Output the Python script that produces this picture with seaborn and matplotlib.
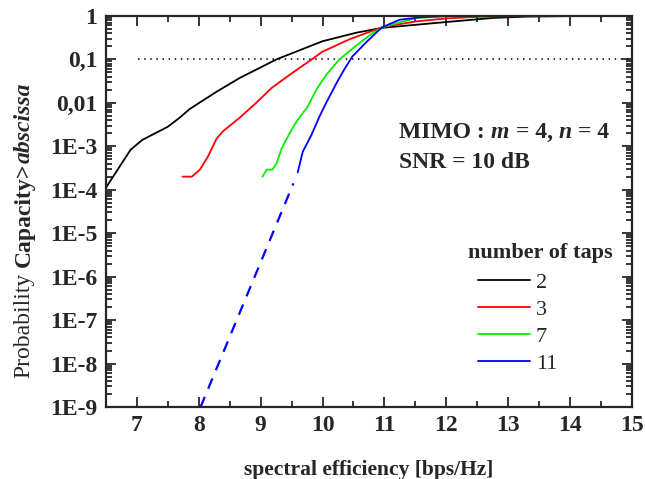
import numpy as np
import pandas as pd
import matplotlib
matplotlib.use("Agg")
from matplotlib import pyplot as plt
from matplotlib.ticker import FixedLocator, LogLocator, NullFormatter, MultipleLocator
import seaborn as sns

# values (x: spectral efficiency, y: P(C > x))
x_2 = [6.5, 6.9, 7.09, 7.5, 7.69, 7.85, 8.29, 8.66, 9.26, 10.0, 10.55, 10.97, 12.0, 12.74, 13.3, 14.0]
y_2 = [1.1e-4, 8.3e-4, 1.4e-3, 2.8e-3, 4.5e-3, 7.1e-3, 1.8e-2, 3.7e-2, 0.1, 0.26, 0.41, 0.53, 0.72, 0.89, 0.96, 0.985]

x_3 = [7.74, 7.89, 8.02, 8.15, 8.29, 8.39, 8.66, 8.93, 9.18, 9.47, 9.82, 10.0, 10.44, 10.97, 11.5, 12.0, 12.5, 13.2, 14.2]
y_3 = [2.0e-4, 2.0e-4, 2.9e-4, 5.8e-4, 1.5e-3, 2.2e-3, 4.5e-3, 1.0e-2, 2.2e-2, 4.4e-2, 9.8e-2, 0.15, 0.29, 0.55, 0.74, 0.87, 0.95, 0.985, 0.99]

x_7 = [9.03, 9.1, 9.19, 9.26, 9.34, 9.47, 9.58, 9.76, 9.9, 10.06, 10.27, 10.55, 10.81, 10.97, 11.51, 12.0, 12.8]
y_7 = [2.0e-4, 2.9e-4, 2.9e-4, 4.1e-4, 8.9e-4, 2.0e-3, 3.7e-3, 8.1e-3, 2.0e-2, 4.4e-2, 9.8e-2, 0.21, 0.40, 0.55, 0.89, 0.98, 0.99]

x_11 = [9.6, 9.68, 9.82, 9.95, 10.06, 10.23, 10.35, 10.48, 10.71, 10.92, 10.97, 11.24, 11.6, 12.0]
y_11 = [2.5e-4, 7.4e-4, 1.8e-3, 4.8e-3, 1.0e-2, 2.9e-2, 5.8e-2, 0.115, 0.25, 0.48, 0.55, 0.81, 0.93, 0.99]

# extrapolated tail of the 11-tap curve (dashed)
x_11_tail = [8.03, 9.53]
y_11_tail = [1.0e-9, 1.4e-4]

taps = ["2", "3", "7", "11"]
colors = ["black", "#ff0000", "#00ee00", "#0000ff"]
ytick_labels = ["1E-9", "1E-8", "1E-7", "1E-6", "1E-5", "1E-4", "1E-3", "0,01", "0,1", "1"]

df = pd.concat([
    pd.DataFrame({"x": xs, "y": ys, "taps": t})
    for t, xs, ys in zip(taps, [x_2, x_3, x_7, x_11], [y_2, y_3, y_7, y_11])
], ignore_index=True)
tail = pd.DataFrame({"x": x_11_tail, "y": y_11_tail})

sns.set_style("ticks")
plt.rcParams["font.family"] = ["Liberation Serif", "DejaVu Serif"]


def chain_text(fig, x, y, pieces, size, vertical=False):
    # pieces: (text, weight, style, gap before in points), placed one after another
    last = None
    for s, weight, style, gap in pieces:
        kw = dict(fontsize=size, fontweight=weight, fontstyle=style,
                  rotation=90 if vertical else 0)
        if last is None:
            if vertical:
                last = fig.text(x, y, s, ha="center", va="bottom", **kw)
            else:
                last = fig.text(x, y, s, ha="left", va="center", **kw)
        elif vertical:
            last = fig.add_artist(plt.Annotation(
                s, xy=(0.5, 1), xycoords=last, xytext=(0, gap),
                textcoords="offset points", ha="center", va="bottom", **kw))
        else:
            last = fig.add_artist(plt.Annotation(
                s, xy=(1, 0), xycoords=last, xytext=(gap, 0),
                textcoords="offset points", ha="left", va="bottom", **kw))
    return last


fig, ax = plt.subplots(figsize=(6.45, 4.79), dpi=100)
fig.subplots_adjust(left=0.164, right=0.98, top=0.967, bottom=0.150)

ax.plot([7.02, 15], [0.1, 0.1], color="black", linestyle=(0, (1, 3)), linewidth=1.1)

sns.lineplot(data=df, x="x", y="y", hue="taps", hue_order=taps,
             palette=dict(zip(taps, colors)), sort=False, estimator=None,
             linewidth=1.3, ax=ax, legend=False)
sns.lineplot(data=tail, x="x", y="y", color="#0000ff", linestyle=(0, (5, 4)),
             linewidth=1.6, sort=False, estimator=None, ax=ax, legend=False)

ax.set_yscale("log")
ax.set_xlim(6.5, 15)
ax.set_ylim(1e-9, 1)

ax.xaxis.set_major_locator(MultipleLocator(1))
ax.xaxis.set_minor_locator(MultipleLocator(0.5))
ax.yaxis.set_major_locator(FixedLocator([10.0 ** k for k in range(-9, 1)]))
ax.yaxis.set_minor_locator(LogLocator(base=10, subs=np.arange(2, 10), numticks=20))
ax.yaxis.set_minor_formatter(NullFormatter())
ax.set_yticklabels(ytick_labels)

ax.tick_params(which="both", direction="in", top=True, right=True, width=1.3)
ax.tick_params(which="major", length=7, labelsize=17, pad=6)
ax.tick_params(which="minor", length=4)
for lbl in ax.get_xticklabels() + ax.get_yticklabels():
    lbl.set_fontweight("bold")
for sp in ax.spines.values():
    sp.set_linewidth(1.6)

ax.set_xlabel("spectral efficiency [bps/Hz]", fontsize=15.5, fontweight="bold")
ax.xaxis.set_label_coords(0.5, -0.135)
ax.set_ylabel("")

# y label with mixed weights / styles
chain_text(fig, 24 / 645, 1 - 378 / 479,
           [("Probability", "normal", "normal", 0),
            ("Capacity>", "bold", "normal", 4),
            ("abscissa", "bold", "italic", 0)],
           size=17, vertical=True)

# annotation block
chain_text(fig, 399 / 645, 1 - 132 / 479,
           [("MIMO :", "bold", "normal", 0), ("m", "bold", "italic", 4.5),
            ("= 4,", "bold", "normal", 4.5), ("n", "bold", "italic", 4.5),
            ("= 4", "bold", "normal", 4.5)],
           size=17)
fig.text(399 / 645, 1 - 163 / 479, "SNR = 10 dB", fontsize=17, fontweight="bold",
         ha="left", va="center")

# legend
handles = [plt.Line2D([], [], color=c, linewidth=1.3) for c in colors]
fig.legend(handles, taps, loc="upper left", bbox_to_anchor=(478 / 645, 1 - 272 / 479),
           frameon=False, fontsize=16, borderpad=0, borderaxespad=0,
           handlelength=2.35, handletextpad=0.25, labelspacing=0.3)
fig.text(540 / 645, 1 - 253 / 479, "number of taps", fontsize=16, fontweight="bold",
         ha="center", va="center")

fig.savefig("out.png", dpi=100)
